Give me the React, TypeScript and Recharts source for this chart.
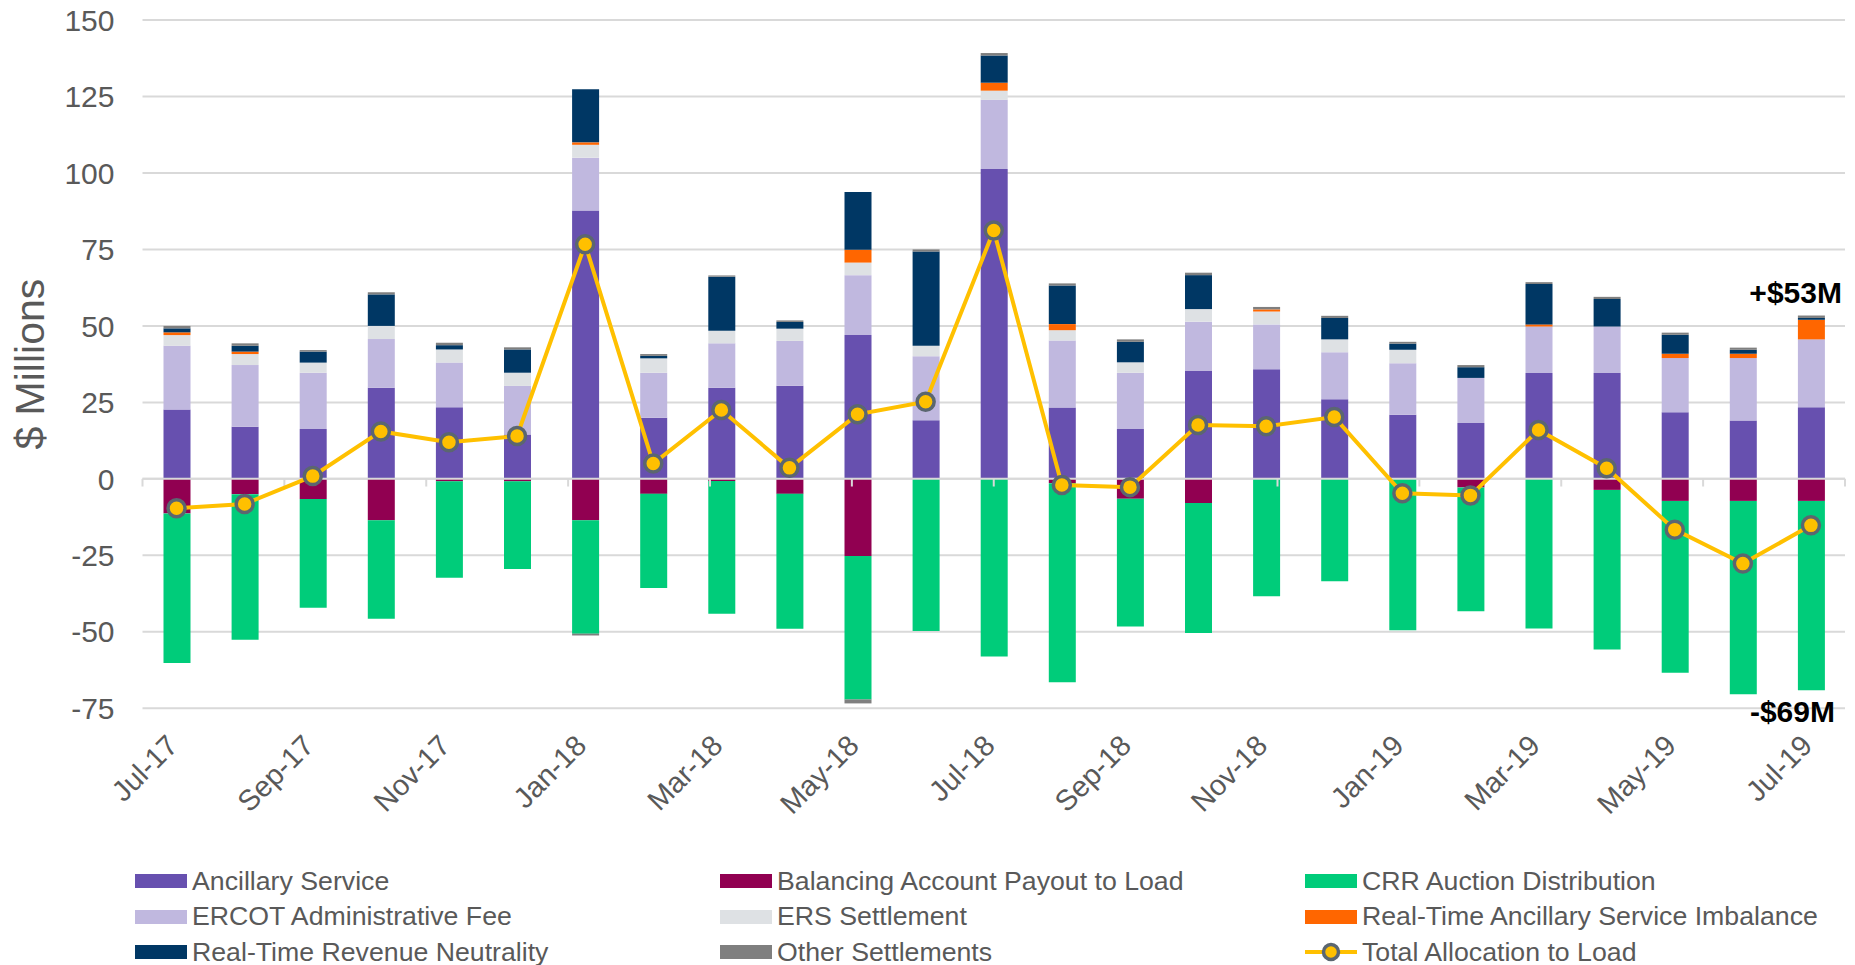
import React from 'react';
import {
  ComposedChart,
  Bar,
  Line,
  XAxis,
  YAxis,
  CartesianGrid,
  ReferenceLine,
  ReferenceDot,
} from 'recharts';

const months = [
  'Jul-17', 'Aug-17', 'Sep-17', 'Oct-17', 'Nov-17', 'Dec-17', 'Jan-18', 'Feb-18', 'Mar-18',
  'Apr-18', 'May-18', 'Jun-18', 'Jul-18', 'Aug-18', 'Sep-18', 'Oct-18', 'Nov-18', 'Dec-18',
  'Jan-19', 'Feb-19', 'Mar-19', 'Apr-19', 'May-19', 'Jun-19', 'Jul-19',
];

const ancillary = [22.7, 17.0, 16.3, 29.8, 23.4, 14.5, 87.7, 20.0, 29.8, 30.4, 47.0, 19.2, 101.3, 23.3, 16.3, 35.3, 35.8, 26.0, 21.0, 18.3, 34.6, 34.6, 21.8, 19.1, 23.4];
const balancing = [-11.3, -5.0, -6.6, -13.5, -0.8, -0.8, -13.5, -4.9, -0.7, -4.9, -25.2, 0, 0, -1.4, -6.5, -7.9, 0, 0, 0, -2.8, 0, -3.6, -7.2, -7.2, -7.2];
const crr = [-48.9, -47.6, -35.5, -32.2, -31.5, -28.7, -37.1, -30.8, -43.4, -44.1, -46.9, -49.7, -58.1, -65.1, -41.8, -42.5, -38.4, -33.5, -49.5, -40.5, -48.9, -52.2, -56.2, -63.2, -61.9];
const adminFee = [20.8, 20.2, 18.4, 15.9, 14.6, 15.9, 17.3, 14.7, 14.5, 14.7, 19.6, 20.9, 22.6, 21.9, 18.4, 16.1, 14.7, 15.4, 16.8, 14.7, 15.2, 15.2, 17.7, 20.4, 22.2];
const ers = [3.5, 3.6, 3.3, 4.3, 4.3, 4.3, 4.2, 4.7, 4.1, 4.0, 4.1, 3.4, 3.0, 3.4, 3.4, 4.1, 4.2, 4.2, 4.4, 0, 0, 0, 0, 0, 0];
const rtAsImbalance = [0.9, 0.8, 0, 0, 0, 0, 0.8, 0, 0, 0, 4.2, 0, 2.6, 2.0, 0, 0, 0.7, 0, 0, 0, 0.7, 0, 1.4, 1.4, 6.4];
const rtRevNeutrality = [1.3, 1.9, 3.6, 10.3, 1.4, 7.6, 17.4, 0.8, 17.7, 2.2, 18.9, 30.8, 8.9, 12.6, 6.7, 11.1, 0, 7.0, 2.0, 3.5, 13.2, 9.0, 6.2, 1.3, 0.6];
const otherSettlements = [0.8, 0.8, 0.5, 0.7, 0.8, 0.7, -0.6, 0.6, 0.4, 0.5, -1.3, 0.7, 0.8, 0.7, 0.8, 0.8, 0.8, 0.7, 0.6, 0.7, 0.6, 0.7, 0.7, 0.7, 0.8];
const totalAllocation = [-9.6, -8.2, 0.9, 15.5, 12.0, 14.0, 76.7, 5.0, 22.5, 3.6, 21.1, 25.2, 81.2, -2.0, -2.7, 17.6, 17.2, 20.2, -4.7, -5.4, 16.0, 3.5, -16.6, -27.7, -15.2];

const yTicks = [-75, -50, -25, 0, 25, 50, 75, 100, 125, 150];
const boundaryTicks = [0, 2, 4, 6, 8, 10, 12, 14, 16, 18, 20, 22, 24];

const annotations = [
  { month: 'Jul-19', value: 53, text: '+$53M', dx: 31, dy: -14 },
  { month: 'Jul-19', value: -69, text: '-$69M', dx: 24, dy: 32 },
];

const barSeries = [
  { key: 'ancillary', name: 'Ancillary Service', color: '#6750AF' },
  { key: 'balancing', name: 'Balancing Account Payout to Load', color: '#910051' },
  { key: 'crr', name: 'CRR Auction Distribution', color: '#00CC7A' },
  { key: 'adminFee', name: 'ERCOT Administrative Fee', color: '#C0B8DF' },
  { key: 'ers', name: 'ERS Settlement', color: '#DEE1E4' },
  { key: 'rtAsImbalance', name: 'Real-Time Ancillary Service Imbalance', color: '#FF6600' },
  { key: 'rtRevNeutrality', name: 'Real-Time Revenue Neutrality', color: '#003764' },
  { key: 'otherSettlements', name: 'Other Settlements', color: '#7F7F7F' },
];
const lineSeries = { key: 'total', name: 'Total Allocation to Load', color: '#FFC000', marker: '#5B6670' };

const data = months.map((m, i) => ({
  month: m,
  ancillary: ancillary[i],
  balancing: balancing[i],
  crr: crr[i],
  adminFee: adminFee[i],
  ers: ers[i],
  rtAsImbalance: rtAsImbalance[i],
  rtRevNeutrality: rtRevNeutrality[i],
  otherSettlements: otherSettlements[i],
  total: totalAllocation[i],
}));

const FONT = '"Liberation Sans", Arial, Helvetica, sans-serif';
const TEXT = '#595959';
const GRID = '#D9D9D9';

const W = 1855;
const H = 965;

const XTick = (props: any) => {
  const { x, y, payload } = props;
  const ax = x + 3;
  const ay = y + 39;
  return (
    <text
      x={ax}
      y={ay}
      transform={`rotate(-45, ${ax}, ${ay})`}
      textAnchor="end"
      fill={TEXT}
      fontSize={29}
      fontFamily={FONT}
    >
      {payload.value}
    </text>
  );
};

const makeAnnotation = (text: string, dx: number, dy: number) => (props: any) => {
  const vb = props.viewBox || {};
  const cx = (vb.x ?? 0) + (vb.width ?? 0) / 2;
  const cy = (vb.y ?? 0) + (vb.height ?? 0) / 2;
  return (
    <text x={cx + dx} y={cy + dy} textAnchor="end" fontSize={30} fontWeight="bold" fill="#000" fontFamily={FONT}>
      {text}
    </text>
  );
};

const YLabel = (props: any) => {
  const vb = props.viewBox || { x: 0, y: 20, width: 142, height: 688 };
  const x = vb.x + 30;
  const y = vb.y + vb.height / 2;
  return (
    <text
      x={x}
      y={y}
      transform={`rotate(-90, ${x}, ${y})`}
      textAnchor="middle"
      dominantBaseline="central"
      fontSize={41}
      fill={TEXT}
      fontFamily={FONT}
    >
      $ Millions
    </text>
  );
};

const legendCols = [135, 720, 1305];
const legendRows = [881, 916.5, 952];

const LegendBox = () => {
  const items = [...barSeries.map((s) => ({ ...s, type: 'bar' })), { ...lineSeries, type: 'line' }];
  return (
    <>
      {items.map((it: any, i) => {
        const col = i % 3;
        const row = Math.floor(i / 3);
        return (
          <div
            key={it.key}
            style={{
              position: 'absolute',
              left: legendCols[col],
              top: legendRows[row] - 16,
              height: 32,
              display: 'flex',
              alignItems: 'center',
              fontFamily: FONT,
              fontSize: 26.7,
              color: TEXT,
              whiteSpace: 'nowrap',
            }}
          >
            {it.type === 'bar' ? (
              <div style={{ width: 52, height: 14, background: it.color, marginRight: 5 }} />
            ) : (
              <svg width={52} height={24} style={{ marginRight: 5 }}>
                <line x1={0} y1={12} x2={52} y2={12} stroke={it.color} strokeWidth={4} />
                <circle cx={26} cy={12} r={7.5} fill={it.color} stroke={it.marker} strokeWidth={3.5} />
              </svg>
            )}
            <span>{it.name}</span>
          </div>
        );
      })}
    </>
  );
};

export default function App() {
  return (
    <div style={{ position: 'absolute', left: 0, top: 0, width: W, height: H, background: '#fff' }}>
      <ComposedChart
        width={W}
        height={H}
        data={data}
        stackOffset="sign"
        margin={{ top: 20, right: 10, bottom: 0, left: 0 }}
        barSize={27}
      >
        <CartesianGrid vertical={false} stroke={GRID} strokeWidth={2} />
        <XAxis
          dataKey="month"
          interval={1}
          axisLine={false}
          tickLine={false}
          tickSize={0}
          tickMargin={0}
          height={256.7}
          tick={<XTick />}
        />
        <XAxis xAxisId="n" type="number" domain={[0, 25]} allowDataOverflow hide />
        <YAxis
          domain={[-75, 150]}
          ticks={yTicks}
          interval={0}
          width={142.5}
          axisLine={false}
          tickLine={false}
          tickSize={0}
          tickMargin={28}
          tick={{ fill: TEXT, fontSize: 30, fontFamily: FONT }}
          label={<YLabel />}
        />
        {barSeries.map((s) => (
          <Bar
            key={s.key}
            dataKey={s.key}
            name={s.name}
            stackId="a"
            fill={s.color}
            isAnimationActive={false}
          />
        ))}
        <ReferenceLine y={0} stroke={GRID} strokeWidth={2} />
        {boundaryTicks.map((t) => (
          <ReferenceLine
            key={`bt-${t}`}
            xAxisId="n"
            segment={[{ x: t, y: 0 }, { x: t, y: -2.5 }]}
            stroke={GRID}
            strokeWidth={2}
          />
        ))}
        <Line
          dataKey={lineSeries.key}
          name={lineSeries.name}
          stroke={lineSeries.color}
          strokeWidth={4}
          dot={{ r: 8.5, fill: lineSeries.color, stroke: lineSeries.marker, strokeWidth: 3.5 }}
          activeDot={false}
          isAnimationActive={false}
        />
        {annotations.map((a) => (
          <ReferenceDot
            key={a.text}
            x={a.month}
            y={a.value}
            r={0}
            fill="none"
            stroke="none"
            label={makeAnnotation(a.text, a.dx, a.dy)}
          />
        ))}
      </ComposedChart>
      <LegendBox />
    </div>
  );
}
